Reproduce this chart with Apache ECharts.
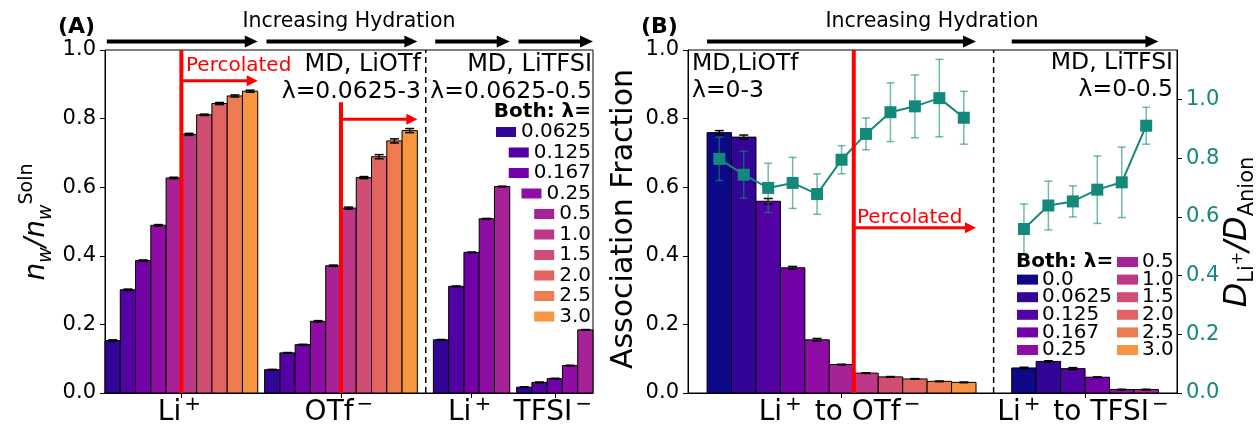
<!DOCTYPE html>
<html>
<head>
<meta charset="utf-8">
<script src="https://cdn.jsdelivr.net/npm/echarts@6/dist/echarts.min.js"></script>
<style>
  html, body { margin: 0; padding: 0; background: #fff; }
  #main { width: 1256px; height: 428px; }
</style>
</head>
<body>
<div id="main"></div>
<script>
// hydration levels, shared colour per level (plasma slice)
var lambdas = ['0.0', '0.0625', '0.125', '0.167', '0.25', '0.5', '1.0', '1.5', '2.0', '2.5', '3.0'];
var lambdaColors = ['#0d0887', '#330597', '#5302a3', '#7201a8', '#8f0da4', '#a72197',
                    '#bd3786', '#d04d73', '#e16462', '#ef7b51', '#f89540'];
var teal = '#14897a';

// (A) water fraction n_w / n_w^Soln
var aLiOTfLi    = [0.153, 0.301, 0.386, 0.489, 0.627, 0.754, 0.811, 0.844, 0.866, 0.880];
var aLiOTfLiErr = [0.002, 0.002, 0.002, 0.002, 0.002, 0.003, 0.002, 0.003, 0.003, 0.003];
var aLiOTfOTf    = [0.068, 0.117, 0.141, 0.209, 0.371, 0.539, 0.628, 0.689, 0.735, 0.765];
var aLiOTfOTfErr = [0.001, 0.001, 0.001, 0.002, 0.002, 0.003, 0.003, 0.006, 0.006, 0.006];
var aLiTFSILi    = [0.155, 0.311, 0.410, 0.508, 0.602];
var aLiTFSILiErr = [0.001, 0.001, 0.001, 0.001, 0.001];
var aLiTFSITFSI    = [0.017, 0.031, 0.042, 0.080, 0.184];
var aLiTFSITFSIErr = [0.001, 0.001, 0.001, 0.001, 0.001];
var aGroupStart = [0, 10.45, 21.5, 26.95];   // bar-slot units
var aTickLabels = ['{n|Li}{s|+}', '{n|OTf}{s|\u2212}', '{n|Li}{s|+}', '{n|TFSI}{s|\u2212}'];

// (B) association fraction and D_Li+/D_anion
var bAssocOTf    = [0.759, 0.746, 0.559, 0.365, 0.155, 0.083, 0.058, 0.047, 0.041, 0.034, 0.031];
var bAssocOTfErr = [0.006, 0.006, 0.008, 0.004, 0.004, 0.001, 0.001, 0.001, 0.001, 0.001, 0.001];
var bAssocTFSI    = [0.073, 0.092, 0.071, 0.046, 0.010, 0.010];
var bAssocTFSIErr = [0.002, 0.002, 0.003, 0.001, 0.001, 0.001];
var bDRatioOTf    = [0.798, 0.744, 0.699, 0.716, 0.678, 0.795, 0.883, 0.957, 0.977, 1.005, 0.938];
var bDRatioOTfErr = [0.074, 0.080, 0.084, 0.087, 0.069, 0.048, 0.054, 0.100, 0.107, 0.132, 0.090];
var bDRatioTFSI    = [0.559, 0.639, 0.653, 0.693, 0.718, 0.911];
var bDRatioTFSIErr = [0.085, 0.083, 0.053, 0.115, 0.120, 0.063];
var bGroupStart = [0.78, 13.24];
var bTickLabels = ['{n|Li}{s|+}{n| to OTf}{s|\u2212}', '{n|Li}{s|+}{n| to TFSI}{s|\u2212}'];

var FONT = 'DejaVu Sans';

function barData(start, vals, errs, colorFrom) {
  return vals.map(function (v, i) { return [start + i + 0.5, v, errs[i], colorFrom + i]; });
}
function groupCenter(start, n) { return start + n / 2; }

var barsA = [].concat(
  barData(aGroupStart[0], aLiOTfLi, aLiOTfLiErr, 1),
  barData(aGroupStart[1], aLiOTfOTf, aLiOTfOTfErr, 1),
  barData(aGroupStart[2], aLiTFSILi, aLiTFSILiErr, 1),
  barData(aGroupStart[3], aLiTFSITFSI, aLiTFSITFSIErr, 1)
);
var barsB = [].concat(
  barData(bGroupStart[0], bAssocOTf, bAssocOTfErr, 0),
  barData(bGroupStart[1], bAssocTFSI, bAssocTFSIErr, 0)
);
var lineOTf = bDRatioOTf.map(function (v, i) { return [bGroupStart[0] + i + 0.5, v, bDRatioOTfErr[i]]; });
var lineTFSI = bDRatioTFSI.map(function (v, i) { return [bGroupStart[1] + i + 0.5, v, bDRatioTFSIErr[i]]; });

var aTicks = [
  groupCenter(aGroupStart[0], aLiOTfLi.length), groupCenter(aGroupStart[1], aLiOTfOTf.length),
  groupCenter(aGroupStart[2], aLiTFSILi.length), groupCenter(aGroupStart[3], aLiTFSITFSI.length)
];
var bTicks = [groupCenter(bGroupStart[0], bAssocOTf.length), groupCenter(bGroupStart[1], bAssocTFSI.length)];

function renderBar(params, api) {
  var x = api.value(0), y = api.value(1), e = api.value(2), c = api.value(3);
  var tl = api.coord([x - 0.5, y]), br = api.coord([x + 0.5, 0]);
  var children = [{
    type: 'rect',
    shape: { x: tl[0], y: tl[1], width: br[0] - tl[0], height: br[1] - tl[1] },
    style: { fill: lambdaColors[c], stroke: '#000', lineWidth: 1 }
  }];
  if (e > 0) {
    var t = api.coord([x, y + e]), b = api.coord([x, y - e]);
    var st = { stroke: '#000', lineWidth: 1.5 };
    children.push(
      { type: 'line', shape: { x1: t[0], y1: t[1], x2: b[0], y2: b[1] }, style: st },
      { type: 'line', shape: { x1: t[0] - 4.5, y1: t[1], x2: t[0] + 4.5, y2: t[1] }, style: st },
      { type: 'line', shape: { x1: b[0] - 4.5, y1: b[1], x2: b[0] + 4.5, y2: b[1] }, style: st }
    );
  }
  return { type: 'group', children: children };
}

function renderErr(params, api) {
  var x = api.value(0), y = api.value(1), e = api.value(2);
  var t = api.coord([x, y + e]), b = api.coord([x, y - e]);
  var st = { stroke: 'rgba(20,137,122,0.6)', lineWidth: 1.5 };
  return { type: 'group', children: [
    { type: 'line', shape: { x1: t[0], y1: t[1], x2: b[0], y2: b[1] }, style: st },
    { type: 'line', shape: { x1: t[0] - 4, y1: t[1], x2: t[0] + 4, y2: t[1] }, style: st },
    { type: 'line', shape: { x1: b[0] - 4, y1: b[1], x2: b[0] + 4, y2: b[1] }, style: st }
  ] };
}

var tickRich = {
  n: { fontFamily: FONT, fontSize: 28, lineHeight: 36, color: '#000' },
  s: { fontFamily: FONT, fontSize: 20, lineHeight: 20, verticalAlign: 'top', color: '#000', padding: [0, 4, 0, 3] }
};

function xAxisCommon(grid, max, ticks, labels) {
  return {
    type: 'value', gridIndex: grid, min: 0, max: max,
    splitLine: { show: false },
    axisLine: { lineStyle: { color: '#000', width: 1 } },
    axisTick: { length: 5, lineStyle: { color: '#000' }, customValues: ticks },
    axisLabel: {
      customValues: ticks, margin: 2, rich: tickRich,
      formatter: function (v) {
        for (var i = 0; i < ticks.length; i++) if (Math.abs(ticks[i] - v) < 1e-6) return labels[i];
        return '';
      }
    }
  };
}
function yAxisCommon(grid, max, color, pos) {
  var vals = [0, 0.2, 0.4, 0.6, 0.8, 1.0];
  return {
    type: 'value', gridIndex: grid, min: 0, max: max, position: pos,
    splitLine: { show: false },
    axisLine: { show: true, lineStyle: { color: '#000', width: 1 } },
    axisTick: { length: 5, lineStyle: { color: '#000' }, customValues: vals },
    axisLabel: {
      customValues: vals, margin: 9, color: color, fontFamily: FONT, fontSize: 21,
      formatter: function (v) { return v.toFixed(1); }
    }
  };
}

var chart = echarts.init(document.getElementById('main'));
chart.setOption({
  animation: false,
  textStyle: { fontFamily: FONT },
  grid: [
    { left: 105, top: 50, width: 488, height: 343, show: true, borderColor: '#000', borderWidth: 1 },
    { left: 688, top: 50, width: 489, height: 343, show: true, borderColor: '#000', borderWidth: 1 }
  ],
  xAxis: [
    xAxisCommon(0, 31.95, aTicks, aTickLabels),
    xAxisCommon(1, 20, bTicks, bTickLabels)
  ],
  yAxis: [
    yAxisCommon(0, 1, '#000', 'left'),
    yAxisCommon(1, 1, '#000', 'left'),
    yAxisCommon(1, 1.169, teal, 'right')
  ],
  series: [
    { type: 'custom', name: 'nw', xAxisIndex: 0, yAxisIndex: 0, data: barsA, renderItem: renderBar, encode: { x: 0, y: 1 }, z: 2 },
    { type: 'custom', name: 'assoc', xAxisIndex: 1, yAxisIndex: 1, data: barsB, renderItem: renderBar, encode: { x: 0, y: 1 }, z: 2 },
    { type: 'custom', name: 'errOTf', xAxisIndex: 1, yAxisIndex: 2, data: lineOTf, renderItem: renderErr, encode: { x: 0, y: 1 }, z: 3 },
    { type: 'custom', name: 'errTFSI', xAxisIndex: 1, yAxisIndex: 2, data: lineTFSI, renderItem: renderErr, encode: { x: 0, y: 1 }, z: 3 },
    { type: 'line', name: 'D OTf', xAxisIndex: 1, yAxisIndex: 2, data: lineOTf, symbol: 'rect', symbolSize: 12,
      lineStyle: { color: teal, width: 2 }, itemStyle: { color: teal }, z: 4 },
    { type: 'line', name: 'D TFSI', xAxisIndex: 1, yAxisIndex: 2, data: lineTFSI, symbol: 'rect', symbolSize: 12,
      lineStyle: { color: teal, width: 2 }, itemStyle: { color: teal }, z: 4 }
  ]
});

// annotations placed through the axes
function pa(x, y) { return chart.convertToPixel({ xAxisIndex: 0, yAxisIndex: 0 }, [x, y]); }
function pb(x, y) { return chart.convertToPixel({ xAxisIndex: 1, yAxisIndex: 1 }, [x, y]); }

var g = [];
function arrow(p1, p2, color, lw, hl, hw) {
  g.push({ type: 'line', z: 20, shape: { x1: p1[0], y1: p1[1], x2: p2[0] - hl + 1, y2: p2[1] }, style: { stroke: color, lineWidth: lw } });
  g.push({ type: 'polygon', z: 20, shape: { points: [[p2[0], p2[1]], [p2[0] - hl, p2[1] - hw / 2], [p2[0] - hl, p2[1] + hw / 2]] }, style: { fill: color } });
}
function vline(p1, p2, color, lw, dash) {
  g.push({ type: 'line', z: 15, shape: { x1: p1[0], y1: p1[1], x2: p2[0], y2: p2[1] }, style: { stroke: color, lineWidth: lw, lineDash: dash || null } });
}
function text(x, y, s, opt) {
  opt = opt || {};
  g.push({ type: 'text', z: 25, x: x, y: y, rotation: opt.rot || 0, style: {
    text: s, fill: opt.color || '#000', align: opt.align || 'left', verticalAlign: 'middle',
    fontFamily: FONT, fontSize: opt.size || 21, fontWeight: opt.bold ? 'bold' : 'normal', rich: opt.rich
  } });
}

// black "increasing hydration" arrows over every group
var aLens = [aLiOTfLi.length, aLiOTfOTf.length, aLiTFSILi.length, aLiTFSITFSI.length];
aGroupStart.forEach(function (s, i) { arrow(pa(s + 0.12, 1.025), pa(s + aLens[i], 1.025), '#000', 4, 13, 12); });
var bLens = [bAssocOTf.length, bAssocTFSI.length];
bGroupStart.forEach(function (s, i) { arrow(pb(s, 1.025), pb(s + bLens[i], 1.025), '#000', 4, 13, 12); });

// separators
vline(pa(21, 0), pa(21, 1), '#000', 1.5, [6, 4]);
vline(pb(12.5, 0), pb(12.5, 1), '#000', 1.5, [6, 4]);

// percolation markers
var aPerc1 = aGroupStart[0] + 5, aPerc2 = aGroupStart[1] + 5, bPerc = bGroupStart[0] + 6;
vline(pa(aPerc1, 0), pa(aPerc1, 1), '#ff0000', 4);
arrow(pa(aPerc1, 0.91), pa(aGroupStart[0] + 10, 0.91), '#ff0000', 3, 11, 11);
vline(pa(aPerc2, 0), pa(aPerc2, 0.848), '#ff0000', 4);
arrow(pa(aPerc2, 0.798), pa(aGroupStart[1] + 10, 0.798), '#ff0000', 3, 11, 11);
vline(pb(bPerc, 0), pb(bPerc, 1), '#ff0000', 4);
arrow(pb(bPerc, 0.482), pb(bGroupStart[0] + 11, 0.482), '#ff0000', 3, 11, 11);

text(186, 66, 'Percolated', { color: '#ff0000', size: 20 });
text(857, 218, 'Percolated', { color: '#ff0000', size: 20 });

// headings
text(58, 27, '(A)', { bold: true, size: 22 });
text(641, 27, '(B)', { bold: true, size: 22 });
text(349, 22, 'Increasing Hydration', { size: 20.5, align: 'center' });
text(932, 22, 'Increasing Hydration', { size: 20.5, align: 'center' });

text(421, 65, 'MD, LiOTf', { align: 'right', size: 24 });
text(421, 92, '\u03bb=0.0625-3', { align: 'right', size: 23.5 });
text(592, 65, 'MD, LiTFSI', { align: 'right', size: 24 });
text(592, 92, '\u03bb=0.0625-0.5', { align: 'right', size: 23.5 });

text(692, 64, 'MD,LiOTf', { size: 23.5 });
text(692, 91, '\u03bb=0-3', { size: 23.5 });
text(1173, 63, 'MD, LiTFSI', { align: 'right', size: 23.5 });
text(1173, 90, '\u03bb=0-0.5', { align: 'right', size: 23.5 });

// axis titles
text(37, 222, '{i|n}{sb|w}{i|/n}{sb|w}{sp|Soln}', { align: 'center', rot: Math.PI / 2, rich: {
  i: { fontFamily: FONT, fontSize: 28, fontStyle: 'italic', lineHeight: 38 },
  sb: { fontFamily: FONT, fontSize: 19, fontStyle: 'italic', lineHeight: 19, verticalAlign: 'bottom' },
  sp: { fontFamily: FONT, fontSize: 19, lineHeight: 19, verticalAlign: 'top' }
} });
text(624, 219, 'Association Fraction', { align: 'center', rot: Math.PI / 2, size: 30 });
text(1238, 232, '{i|D}{sb|Li}{ss|+}{i|/D}{sb|Anion}', { align: 'center', rot: Math.PI / 2, rich: {
  i: { fontFamily: FONT, fontSize: 32, fontStyle: 'italic', lineHeight: 40, color: teal },
  sb: { fontFamily: FONT, fontSize: 21, lineHeight: 21, verticalAlign: 'bottom', color: teal },
  ss: { fontFamily: FONT, fontSize: 16, lineHeight: 16, verticalAlign: 'middle', color: teal }
} });

// legends
var ctx = document.createElement('canvas').getContext('2d');
ctx.font = '20px "' + FONT + '"';
text(591, 112, 'Both: \u03bb=', { bold: true, size: 20, align: 'right' });
for (var i = 1; i < lambdas.length; i++) {
  var yy = 132 + (i - 1) * 20.5;
  var w = ctx.measureText(lambdas[i]).width;
  g.push({ type: 'rect', z: 25, shape: { x: 591 - w - 25, y: yy - 5, width: 20, height: 10 }, style: { fill: lambdaColors[i] } });
  text(591, yy, lambdas[i], { size: 20, align: 'right' });
}
text(1016, 262, 'Both: \u03bb=', { bold: true, size: 20 });
for (var j = 0; j < lambdas.length; j++) {
  var left = j < 5;
  var row = left ? j + 1 : j - 5;
  var ly = 262 + row * 17.6;
  var sx = left ? 1017 : 1117;
  g.push({ type: 'rect', z: 25, shape: { x: sx, y: ly - 5, width: 21, height: 10 }, style: { fill: lambdaColors[j] } });
  text(sx + 25, ly, lambdas[j], { size: 20 });
}

chart.setOption({ graphic: g });
</script>
</body>
</html>
